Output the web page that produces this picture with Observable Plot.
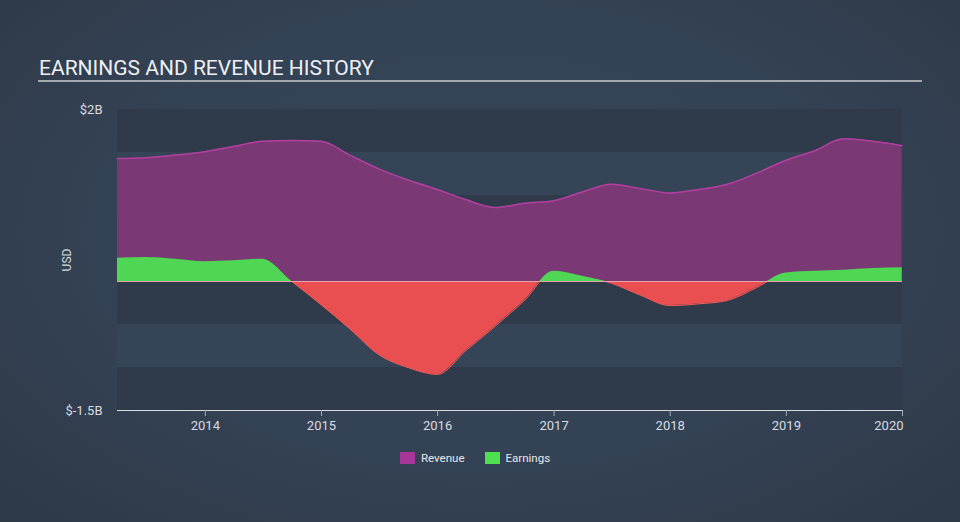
<!DOCTYPE html>
<html>
<head>
<meta charset="utf-8">
<script src="https://cdn.jsdelivr.net/npm/d3@7"></script>
<script src="https://cdn.jsdelivr.net/npm/@observablehq/plot@0.6"></script>
<style>
  html, body { margin: 0; padding: 0; }
  body {
    width: 960px; height: 522px; overflow: hidden; position: relative;
    background: radial-gradient(ellipse at 50% 45%, #364558 0%, #344255 55%, #2e3946 100%);
    font-family: Roboto, "Noto Sans", sans-serif;
  }
  #title { position: absolute; left: 39px; top: 58px; font-size: 21px; line-height: 21px; color: #eef0f3; white-space: nowrap; }
  #rule { position: absolute; left: 38px; top: 80px; width: 884px; height: 2px; background: #a3a9b1; }
  #chart { position: absolute; left: 0; top: 90px; }
  #ylabel { position: absolute; left: 67px; top: 260px; transform: translate(-50%, -50%) rotate(-90deg); font-size: 12px; color: #d4d8dd; }
  #legend { position: absolute; top: 451px; left: 400px; display: flex; align-items: center; font-size: 11.5px; color: #e6e8eb; }
  .sw { width: 15px; height: 12px; display: inline-block; margin-right: 6px; }
  .item { display: flex; align-items: center; margin-right: 20px; }
</style>
</head>
<body>
<div id="title">EARNINGS AND REVENUE HISTORY</div>
<div id="rule"></div>
<div id="chart"></div>
<div id="ylabel">USD</div>
<div id="legend"></div>
<script>
// ---- data (USD billions, quarter ends) ----
const dates = [
  "2013-03-31","2013-06-30","2013-09-30","2013-12-31",
  "2014-03-31","2014-06-30","2014-09-30","2014-12-31",
  "2015-03-31","2015-06-30","2015-09-30","2015-12-31",
  "2016-03-31","2016-06-30","2016-09-30","2016-12-31",
  "2017-03-31","2017-06-30","2017-09-30","2017-12-31",
  "2018-03-31","2018-06-30","2018-09-30","2018-12-31",
  "2019-03-31","2019-06-30","2019-09-30","2019-12-31"
];
const revenue = [
  1.43, 1.44, 1.47, 1.51,
  1.57, 1.63, 1.64, 1.63,
  1.47, 1.31, 1.18, 1.07,
  0.95, 0.86, 0.91, 0.94,
  1.04, 1.13, 1.08, 1.03,
  1.07, 1.13, 1.26, 1.41,
  1.52, 1.66, 1.63, 1.58
];
const earnings = [
  0.27, 0.28, 0.26, 0.23,
  0.24, 0.26, 0.00, -0.27,
  -0.55, -0.85, -1.00, -1.08,
  -0.80, -0.52, -0.22, 0.12,
  0.06, -0.02, -0.16, -0.28,
  -0.26, -0.22, -0.07, 0.10,
  0.12, 0.13, 0.15, 0.16
];
const yTickValues = [2, -1.5];
const bandEdges = [-1.5, -1, -0.5, 0, 0.5, 1, 1.5, 2];
const xTickYears = [2014, 2015, 2016, 2017, 2018, 2019, 2020];
const xDomain = ["2013-03-31", "2020-01-01"];
const seriesNames = ["Revenue", "Earnings"];

// ---- colours ----
const C = {
  bandDark: "#2f3b4b", bandLight: "#354456",
  revFill: "#7a3875", revStroke: "#b3409f",
  pos: "#4fd654", neg: "#e94f50", negStroke: "#ff5c5c",
  zero: "#e9a3ad", axis: "#a3acb8",
  legRev: "#a8359a", legEarn: "#4fe04f"
};

const data = dates.map((d, i) => ({ date: new Date(d), revenue: revenue[i] * 1e9, earnings: earnings[i] * 1e9 }));
const x0 = new Date(xDomain[0]), x1 = new Date(xDomain[1]);
const bands = d3.pairs(bandEdges).map(([a, b], i) => ({ y1: a * 1e9, y2: b * 1e9, dark: i % 2 === 0 }));

const W = 960, H = 351;
const plot = Plot.plot({
  width: W, height: H,
  marginTop: 19, marginBottom: 31, marginLeft: 117, marginRight: 58,
  style: { background: "transparent", color: "#d8dbe0", fontFamily: "Roboto, sans-serif", fontSize: "13px" },
  x: {
    type: "utc", domain: [x0, x1],
    ticks: xTickYears.map(y => new Date(Date.UTC(y, 0, 1))),
    tickFormat: "%Y", tickSize: 6, tickPadding: 4, line: true, label: null
  },
  y: {
    domain: [-1.5e9, 2e9],
    ticks: yTickValues.map(v => v * 1e9),
    tickFormat: d => "$" + (d / 1e9) + "B",
    tickSize: 0, tickPadding: 15, label: null
  },
  marks: [
    Plot.rectY(bands.filter(b => b.dark), { x1: () => x0, x2: () => x1, y1: "y1", y2: "y2", fill: C.bandDark }),
    Plot.rectY(bands.filter(b => !b.dark), { x1: () => x0, x2: () => x1, y1: "y1", y2: "y2", fill: C.bandLight }),
    Plot.areaY(data, { x: "date", y1: 0, y2: "revenue", fill: C.revFill, curve: "monotone-x" }),
    Plot.lineY(data, { x: "date", y: "revenue", stroke: C.revStroke, strokeWidth: 1.5, curve: "monotone-x" }),
    Plot.areaY(data, { x: "date", y1: 0, y2: "earnings", fill: C.pos, curve: "monotone-x" }),
    Plot.areaY(data, { x: "date", y1: 0, y2: "earnings", fill: C.neg, curve: "monotone-x" }),
    Plot.lineY(data, { x: "date", y: "earnings", stroke: C.negStroke, strokeWidth: 1, curve: "monotone-x" }),
    Plot.ruleY([0], { stroke: C.zero, strokeWidth: 1.2 })
  ]
});

// clip earnings above/below zero
const svg = d3.select(plot);
const y0 = plot.scale("y").apply(0);
const defs = svg.insert("defs", ":first-child");
defs.append("clipPath").attr("id", "clip-pos").append("rect").attr("x", 0).attr("y", 0).attr("width", W).attr("height", y0);
defs.append("clipPath").attr("id", "clip-neg").append("rect").attr("x", 0).attr("y", y0).attr("width", W).attr("height", H - y0);
svg.selectAll(`g[fill="${C.pos}"]`).attr("clip-path", "url(#clip-pos)");
svg.selectAll(`g[fill="${C.neg}"]`).attr("clip-path", "url(#clip-neg)");
svg.selectAll(`g[stroke="${C.negStroke}"]`).attr("clip-path", "url(#clip-neg)");
// axis line / tick colour, last tick label anchored at end
svg.selectAll('g[aria-label^="x-axis"] line, g[aria-label^="x-axis"] path').attr("stroke", C.axis);
svg.selectAll('g[aria-label^="x-axis"]').filter(function(){ return this.getAttribute("stroke"); }).attr("stroke", C.axis);
svg.selectAll("text").filter(function(){ return this.textContent === String(xTickYears[xTickYears.length - 1]); })
  .attr("text-anchor", "end").attr("dx", "1");
document.getElementById("chart").appendChild(plot);

// legend
const legend = document.getElementById("legend");
[[seriesNames[0], C.legRev], [seriesNames[1], C.legEarn]].forEach(([name, col]) => {
  const it = document.createElement("span"); it.className = "item";
  const sw = document.createElement("span"); sw.className = "sw"; sw.style.background = col;
  it.appendChild(sw); it.appendChild(document.createTextNode(name));
  legend.appendChild(it);
});
</script>
</body>
</html>
